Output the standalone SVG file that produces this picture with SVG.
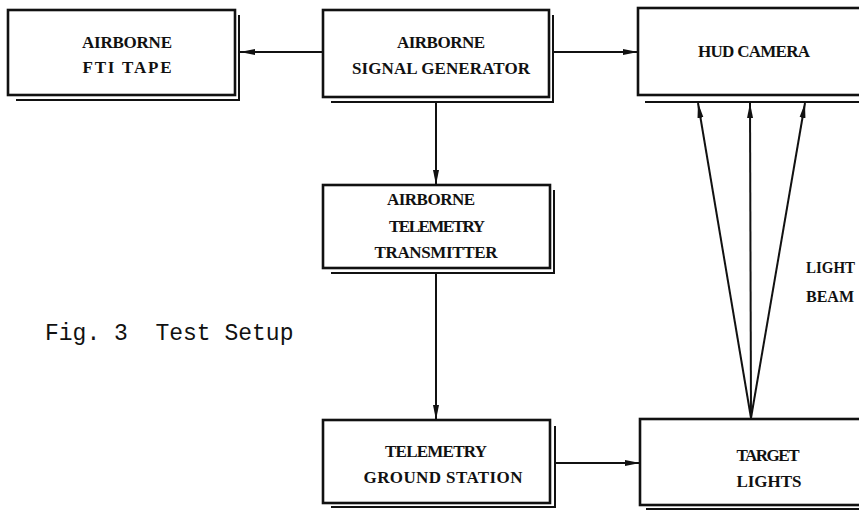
<svg xmlns="http://www.w3.org/2000/svg" width="859" height="510" viewBox="0 0 859 510">
<defs>
<marker id="ah" markerWidth="16" markerHeight="8" refX="15" refY="4" orient="auto" markerUnits="userSpaceOnUse">
<path d="M0,1 L15,4 L0,7 Z" fill="#111"/>
</marker>
</defs>
<style>
.box{fill:#fff;stroke:#111;stroke-width:2.6}
.sh{fill:none;stroke:#111;stroke-width:2}
.lbl{font-family:"Liberation Serif","DejaVu Serif",serif;font-weight:bold;font-size:17px;fill:#111;text-anchor:middle}
.cap{font-family:"Liberation Mono","DejaVu Sans Mono",monospace;font-size:23px;fill:#111;white-space:pre}
.ln{fill:none;stroke:#111;stroke-width:2}
</style>
<rect width="859" height="510" fill="#fff"/>
<g id="fti-tape">
<path class="sh" d="M16,100 H239 V15"/>
<rect class="box" x="8" y="10" width="227" height="85"/>
<text class="lbl" x="127" y="48" textLength="90" lengthAdjust="spacing">AIRBORNE</text>
<text class="lbl" x="127" y="73" textLength="89" lengthAdjust="spacing">FTI TAPE</text>
</g>
<g id="signal-generator">
<path class="sh" d="M331,102 H553 V15"/>
<rect class="box" x="323" y="10" width="226" height="87"/>
<text class="lbl" x="441" y="48" textLength="88" lengthAdjust="spacing">AIRBORNE</text>
<text class="lbl" x="441" y="74" textLength="178" lengthAdjust="spacing">SIGNAL GENERATOR</text>
</g>
<g id="hud-camera">
<path class="sh" d="M645,102 H880"/>
<rect class="box" x="638" y="8" width="240" height="87"/>
<text class="lbl" x="754" y="57" textLength="112" lengthAdjust="spacing">HUD CAMERA</text>
</g>
<g id="telemetry-transmitter">
<path class="sh" d="M331,273 H554 V190"/>
<rect class="box" x="323" y="185" width="227" height="83"/>
<text class="lbl" x="431" y="205" textLength="88" lengthAdjust="spacing">AIRBORNE</text>
<text class="lbl" x="437" y="232" textLength="96" lengthAdjust="spacing">TELEMETRY</text>
<text class="lbl" x="436" y="258" textLength="123" lengthAdjust="spacing">TRANSMITTER</text>
</g>
<g id="ground-station">
<path class="sh" d="M331,507 H555 V426"/>
<rect class="box" x="323" y="420" width="227" height="83"/>
<text class="lbl" x="436" y="457" textLength="102" lengthAdjust="spacing">TELEMETRY</text>
<text class="lbl" x="443" y="483" textLength="159" lengthAdjust="spacing">GROUND STATION</text>
</g>
<g id="target-lights">
<path class="sh" d="M646,509 H880"/>
<rect class="box" x="640" y="419" width="240" height="86"/>
<text class="lbl" x="768" y="461" textLength="63" lengthAdjust="spacing">TARGET</text>
<text class="lbl" x="769" y="487" textLength="65" lengthAdjust="spacing">LIGHTS</text>
</g>
<g id="connectors">
<line class="ln" x1="323" y1="52" x2="240" y2="52" marker-end="url(#ah)"/>
<line class="ln" x1="553" y1="52" x2="638" y2="52" marker-end="url(#ah)"/>
<line class="ln" x1="436" y1="102" x2="436" y2="185" marker-end="url(#ah)"/>
<line class="ln" x1="436" y1="273" x2="436" y2="420" marker-end="url(#ah)"/>
<line class="ln" x1="555" y1="463" x2="640" y2="463" marker-end="url(#ah)"/>
<line class="ln" x1="751" y1="418" x2="698" y2="103" marker-end="url(#ah)"/>
<line class="ln" x1="751" y1="418" x2="750" y2="103" marker-end="url(#ah)"/>
<line class="ln" x1="751" y1="418" x2="805" y2="103" marker-end="url(#ah)"/>
</g>
<g id="beam-label">
<text class="lbl" x="806" y="273" style="text-anchor:start;font-size:16px" textLength="49" lengthAdjust="spacingAndGlyphs">LIGHT</text>
<text class="lbl" x="806" y="302" style="text-anchor:start;font-size:16px">BEAM</text>
</g>
<text class="cap" x="45" y="340" xml:space="preserve">Fig. 3  Test Setup</text>
</svg>
